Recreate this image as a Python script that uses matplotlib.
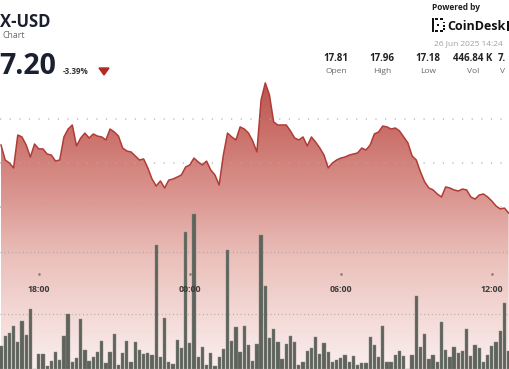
import matplotlib.pyplot as plt
import numpy as np
from matplotlib.colors import LinearSegmentedColormap
from matplotlib.patches import Polygon, Rectangle

plt.rcParams['font.family'] = ['Open Sans', 'DejaVu Sans']

# 10-minute samples, first one at 16:30
price = [
    17.602, 17.517, 17.500, 17.472, 17.659, 17.648, 17.602, 17.534, 17.608, 17.580,
    17.580, 17.551, 17.545, 17.511, 17.517, 17.648, 17.693, 17.716, 17.597, 17.642,
    17.670, 17.642, 17.665, 17.653, 17.648, 17.631, 17.693, 17.676, 17.653, 17.585,
    17.568, 17.563, 17.540, 17.517, 17.523, 17.472, 17.409, 17.369, 17.398, 17.358,
    17.403, 17.409, 17.420, 17.432, 17.477, 17.489, 17.528, 17.506, 17.489, 17.511,
    17.460, 17.432, 17.375, 17.545, 17.670, 17.648, 17.631, 17.705, 17.693, 17.670,
    17.625, 17.563, 17.858, 17.955, 17.886, 17.733, 17.716, 17.716, 17.716, 17.682,
    17.642, 17.631, 17.648, 17.597, 17.648, 17.619, 17.585, 17.545, 17.472, 17.500,
    17.517, 17.528, 17.534, 17.545, 17.551, 17.557, 17.585, 17.574, 17.602, 17.665,
    17.676, 17.710, 17.705, 17.693, 17.699, 17.682, 17.648, 17.614, 17.540, 17.517,
    17.449, 17.392, 17.358, 17.347, 17.324, 17.307, 17.364, 17.358, 17.347, 17.341,
    17.352, 17.347, 17.307, 17.295, 17.318, 17.324, 17.307, 17.284, 17.256, 17.239,
    17.244, 17.216,
]

# volume per sample, thousands
volume = [
    2.3, 3.3, 3.6, 4.3, 2.7, 4.8, 3.4, 6.0, 0.0, 1.5,
    1.5, 0.3, 0.8, 1.7, 0.9, 3.3, 5.5, 0.7, 1.1, 5.0,
    1.9, 0.8, 1.2, 1.7, 2.8, 0.6, 1.7, 3.5, 0.4, 1.6,
    2.8, 0.7, 2.7, 1.9, 1.5, 1.6, 1.4, 12.4, 1.2, 5.1,
    0.7, 0.5, 2.9, 2.1, 13.7, 2.6, 15.5, 1.2, 2.2, 0.4,
    1.6, 0.3, 1.2, 2.0, 11.9, 2.8, 4.2, 1.7, 4.3, 2.4,
    0.8, 2.5, 13.4, 8.3, 3.1, 4.0, 2.7, 1.0, 2.5, 3.3,
    2.7, 0.4, 0.7, 1.8, 2.1, 3.2, 1.5, 2.6, 1.7, 0.7,
    0.9, 1.1, 1.4, 0.7, 1.3, 0.4, 0.6, 0.6, 3.2, 2.4,
    1.2, 4.3, 0.7, 0.7, 1.4, 1.8, 1.3, 0.0, 1.4, 7.3,
    2.2, 3.5, 1.0, 1.4, 0.7, 4.7, 1.9, 1.2, 2.2, 1.6,
    1.8, 4.0, 1.3, 2.4, 2.1, 0.7, 1.4, 2.3, 2.7, 3.8,
    6.6, 1.8,
]

start_hour = 16.5
tick_hours = [18, 24, 30, 36]
tick_labels = ["18:00", "00:00", "06:00", "12:00"]
price_grid = [17.75, 17.50, 17.25]
volume_grid = [5.5, 11.7]

stat_values = ["17.81", "17.96", "17.18", "446.84 K", "7."]
stat_names = ["Open", "High", "Low", "Vol", "V"]

W, H = 510, 369
fig = plt.figure(figsize=(W / 100, H / 100), dpi=100)
ax = fig.add_axes([0, 0, 1, 1])
ax.set_axis_off()

x = np.arange(len(price))
x0, pitch = 1.0, 4.195
xlim = (-x0 / pitch, (W - x0) / pitch)
ylim = (17.75 - (H - 119) / 176, 17.75 + 119 / 176)

# gradient under the price line
stops = [(0.0, '#b9544e'), (80 / H, '#b9544e'), (130 / H, '#ca6f68'),
         (200 / H, '#dc9893'), (260 / H, '#ebc1bc'), (320 / H, '#f4dbd8'),
         (1.0, '#faeeed')]
cmap = LinearSegmentedColormap.from_list('fade', stops)
im = ax.imshow(np.linspace(0, 1, 400).reshape(-1, 1), cmap=cmap, aspect='auto',
               extent=[xlim[0], xlim[1], ylim[0], ylim[1]], origin='upper', zorder=1)
area = ax.fill_between(x, price, ylim[0], color='none', lw=0)
im.set_clip_path(area.get_paths()[0], transform=ax.transData)
ax.set_xlim(*xlim)
ax.set_ylim(*ylim)

for lv in price_grid:
    ax.axhline(lv, color='#b3a9a9', lw=1.1, ls=(0, (0.8, 5.5)), alpha=0.8, zorder=2)

ax.plot(x, price, color='#b03c37', lw=1.1, solid_joinstyle='round', zorder=6)

axv = ax.twinx()
axv.set_axis_off()
axv.set_ylim(0, H / 10)
for lv in volume_grid:
    axv.axhline(lv, color='#a89c9c', lw=0.9, ls=(0, (0.8, 2.2)), alpha=0.8, zorder=1)
axv.bar(x, volume, width=0.78, color='#5e635c', edgecolor='#858a82', linewidth=0.3, zorder=3)

xt = ax.get_xaxis_transform()
for hr, lab in zip(tick_hours, tick_labels):
    xi = (hr - start_hour) * 6
    axv.plot([xi], [1 - 274 / H], transform=xt, marker='o', ms=0.8, color='#777777', zorder=7)
    axv.text(xi, 1 - 289 / H, lab, transform=xt, ha='center', va='center',
             fontsize=6.3, fontweight='bold', color='#3a3a3a', zorder=7)

# header, in pixel coordinates
hd = fig.add_axes([0, 0, 1, 1], zorder=10)
hd.set_xlim(0, W)
hd.set_ylim(H, 0)
hd.set_axis_off()
hd.patch.set_alpha(0)

dark = '#1b2030'
hd.text(0, 27, "X-USD", fontsize=12, fontweight='bold', color=dark, va='baseline')
hd.text(3, 38.3, "Chart", fontsize=6.3, color='#6b6b6b', va='baseline')
hd.text(-1, 74, "7.20", fontsize=20.5, fontweight='bold', color=dark, va='baseline')
hd.text(63, 74, "-3.39%", fontsize=5.8, fontweight='bold', color='#333333', va='baseline')
hd.add_patch(Polygon([(99, 68), (109, 68), (104, 75)], closed=True, color='#b22a22'))

hd.text(432, 10.5, "Powered by", fontsize=6, fontweight='bold', color='#222222', va='baseline')
for r in [(432, 18, 2.2, 14), (435.5, 18, 3, 2), (440.5, 18, 3, 2), (435.5, 30, 3, 2),
          (440.5, 30, 3, 2), (443.3, 21.5, 1.7, 1.7), (443.3, 25, 1.7, 1.7),
          (443.3, 28.2, 1.7, 1.7), (437.5, 24, 2, 2)]:
    hd.add_patch(Rectangle(r[:2], r[2], r[3], color='#111111', lw=0))
hd.text(447, 30.5, "CoinDesk", fontsize=9.0, fontweight='bold', color='#111111', va='baseline')
# first stroke of the next word, cut by the frame edge
hd.add_patch(Rectangle((507, 20.5), 3, 10, color='#111111', lw=0))
hd.text(434, 45.7, "26 Jun 2025 14:24", fontsize=6, color='#a0a0a0', va='baseline')

for cx, val, name in zip([336, 382, 428, 473, 498], stat_values, stat_names):
    ha = 'left' if val == "7." else 'center'
    nx = 500 if val == "7." else cx
    hd.text(cx, 61, val, fontsize=7.0, fontweight='bold', color='#222222', ha=ha, va='baseline')
    hd.text(nx, 73, name, fontsize=6, color='#666666', ha=ha, va='baseline')

fig.savefig('out.png', dpi=100)
